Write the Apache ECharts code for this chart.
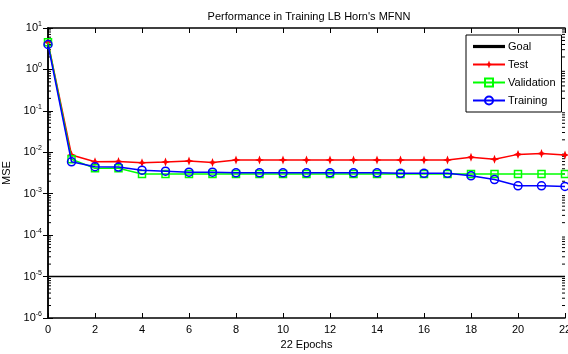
<!DOCTYPE html>
<html><head><meta charset="utf-8">
<script src="https://cdn.jsdelivr.net/npm/echarts@6/dist/echarts.min.js"></script>
<style>html,body{margin:0;padding:0;background:#fff}#c{width:568px;height:354px}</style>
</head><body><div id="c"></div>
<script>
const epochs = [0,1,2,3,4,5,6,7,8,9,10,11,12,13,14,15,16,17,18,19,20,21,22];
const testMSE = [4.5,0.0086,0.0059,0.0060,0.0056,0.0058,0.0062,0.0057,0.0065,0.0065,0.0065,0.0065,0.0065,0.0065,0.0065,0.0065,0.0065,0.0065,0.0076,0.0068,0.0089,0.0094,0.0086];
const validationMSE = [4.5,0.0068,0.0041,0.0041,0.0030,0.0030,0.0030,0.0030,0.0030,0.0030,0.0030,0.0030,0.0030,0.0030,0.0030,0.0030,0.0030,0.0030,0.0030,0.0030,0.0030,0.0030,0.0030];
const trainingMSE = [4.0,0.0059,0.0045,0.0044,0.0037,0.0035,0.0033,0.0033,0.0032,0.0032,0.0032,0.0032,0.0032,0.0032,0.0032,0.0031,0.0031,0.0031,0.0027,0.0022,0.00155,0.00155,0.0015];
const goalMSE = 1e-5;
const xTicks = [0,2,4,6,8,10,12,14,16,18,20,22];
const yTickExps = [-6,-5,-4,-3,-2,-1,0,1];

const minorVals = [];
for (let d = -6; d <= 0; d++) for (let m = 2; m <= 9; m++) minorVals.push(m * Math.pow(10, d));

const font = 'Liberation Sans, Arial, sans-serif';
const chart = echarts.init(document.getElementById('c'), null, {renderer: 'canvas'});
const starPath = 'path://M0,-10 L2.8,-2.8 L10,0 L2.8,2.8 L0,10 L-2.8,2.8 L-10,0 L-2.8,-2.8 Z';
const yAxisBase = {
  type: 'log', logBase: 10, min: 1e-6, max: 10,
  axisLine: {show: true, lineStyle: {color: '#000', width: 1.5}},
  axisTick: {show: true, inside: true, length: 5, lineStyle: {color: '#000'}},
  splitLine: {show: false}, minorTick: {show: false}
};
const xAxisBase = {
  type: 'value', min: 0, max: 22, interval: 2,
  axisLine: {show: true, onZero: false, lineStyle: {color: '#000', width: 1.5}},
  axisTick: {show: true, inside: true, length: 5, lineStyle: {color: '#000'}},
  splitLine: {show: false}
};
chart.setOption({
  animation: false,
  backgroundColor: '#fff',
  title: {text: "Performance in Training LB Horn's MFNN", left: 304, top: 6, textAlign: 'center',
    textStyle: {fontFamily: font, fontSize: 11, fontWeight: 'normal', color: '#000'}},
  grid: {left: 48, right: 3, top: 28, bottom: 36, containLabel: false, outerBoundsMode: 'none'},
  legend: {
    left: 466, top: 35, orient: 'vertical', itemGap: 7, itemWidth: 32, itemHeight: 10,
    borderColor: '#000', borderWidth: 1, padding: [6, 6, 6, 6], backgroundColor: '#fff',
    textStyle: {fontFamily: font, fontSize: 11, color: '#000', padding: [0, 0, 0, -2]},
    data: [{name: 'Goal', icon: 'path://M0,0 L10,0 L10,1 L0,1 Z'}, 'Test', 'Validation', 'Training']
  },
  xAxis: [
    Object.assign({}, xAxisBase, {position: 'bottom', name: '22 Epochs', nameLocation: 'middle', nameGap: 20,
      nameTextStyle: {fontFamily: font, fontSize: 11, color: '#000'},
      axisLabel: {fontFamily: font, fontSize: 11, color: '#000', margin: 6,
        customValues: xTicks}}),
    Object.assign({}, xAxisBase, {position: 'top', axisLabel: {show: false}})
  ],
  yAxis: [
    Object.assign({}, yAxisBase, {position: 'left', name: 'MSE', nameLocation: 'middle', nameGap: 32,
      nameTextStyle: {fontFamily: font, fontSize: 11, color: '#000'},
      axisLabel: {margin: 6, formatter: v => {
        const e = Math.round(Math.log10(v));
        return '{b|10}{e|' + e + '}';
      }, rich: {b: {fontFamily: font, fontSize: 11, color: '#000'},
               e: {fontFamily: font, fontSize: 7, color: '#000', padding: [0, 0, 8, 0]}}}}),
    Object.assign({}, yAxisBase, {position: 'right', axisLabel: {show: false}})
  ],
  series: [
    {name: 'Goal', type: 'line', data: epochs.map(x => [x, goalMSE]), symbol: 'none',
      lineStyle: {color: '#000', width: 1.5}, itemStyle: {color: '#000'}, z: 2},
    {name: 'Test', type: 'line', data: epochs.map((x, i) => [x, testMSE[i]]), symbol: starPath, symbolSize: 9,
      lineStyle: {color: '#ff0000', width: 1.5}, itemStyle: {color: '#ff0000'}, z: 3},
    {name: 'Validation', type: 'line', data: epochs.map((x, i) => [x, validationMSE[i]]), symbol: 'rect', symbolSize: 7,
      lineStyle: {color: '#00ff00', width: 1.5}, itemStyle: {color: 'rgba(0,0,0,0)', borderColor: '#00ff00', borderWidth: 1.5}, z: 4},
    {name: 'Training', type: 'line', data: epochs.map((x, i) => [x, trainingMSE[i]]), symbol: 'circle', symbolSize: 8,
      lineStyle: {color: '#0000ff', width: 1.5}, itemStyle: {color: 'rgba(0,0,0,0)', borderColor: '#0000ff', borderWidth: 1.5}, z: 5},
    {type: 'custom', silent: true, z: 1, data: minorVals.map(v => [0, v]),
      renderItem: (params, api) => {
        const v = api.value(1);
        const l = api.coord([0, v]);
        const r = api.coord([22, v]);
        return {type: 'group', children: [
          {type: 'line', shape: {x1: l[0], y1: l[1], x2: l[0] + 3, y2: l[1]}, style: {stroke: '#000', lineWidth: 1}},
          {type: 'line', shape: {x1: r[0], y1: r[1], x2: r[0] - 3, y2: r[1]}, style: {stroke: '#000', lineWidth: 1}}
        ]};
      }}
  ]
});
</script></body></html>
